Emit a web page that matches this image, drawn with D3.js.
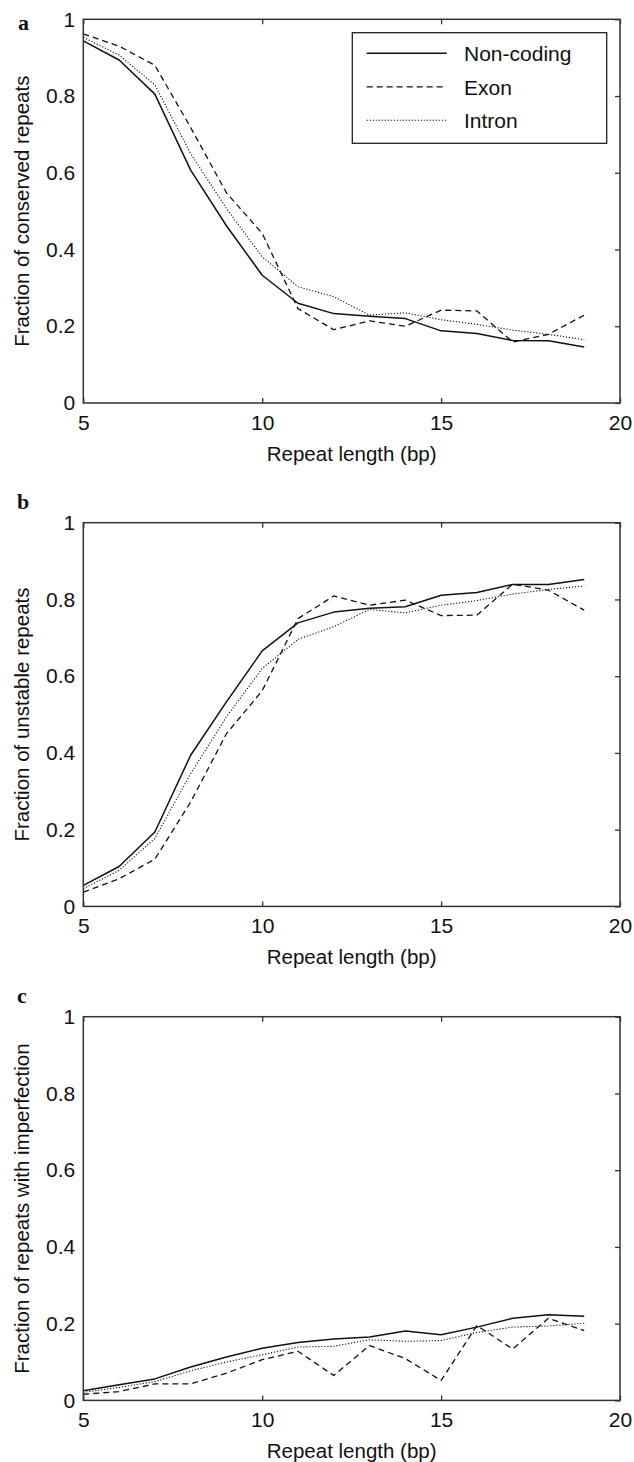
<!DOCTYPE html>
<html><head><meta charset="utf-8">
<script src="https://cdn.jsdelivr.net/npm/d3@7"></script>
<style>body{margin:0;background:#fff}svg{display:block}</style>
</head><body>
<script>
const repeatLength = [5,6,7,8,9,10,11,12,13,14,15,16,17,18,19];
const seriesNames = ["Non-coding","Exon","Intron"];
const xTicks = [5,10,15,20];
const yTicks = [0,0.2,0.4,0.6,0.8,1];
const yTickLabels = ["0","0.2","0.4","0.6","0.8","1"];
const xTitle = "Repeat length (bp)";
const panelLetters = ["a","b","c"];
const yTitles = ["Fraction of conserved repeats","Fraction of unstable repeats","Fraction of repeats with imperfection"];

const conservedNonCoding = [0.944,0.894,0.805,0.607,0.462,0.333,0.260,0.233,0.226,0.220,0.188,0.181,0.163,0.162,0.146];
const conservedExon      = [0.962,0.930,0.880,0.718,0.548,0.442,0.246,0.191,0.214,0.200,0.242,0.240,0.159,0.179,0.229];
const conservedIntron    = [0.953,0.907,0.829,0.650,0.507,0.381,0.303,0.277,0.229,0.235,0.217,0.205,0.190,0.179,0.165];

const unstableNonCoding = [0.055,0.104,0.194,0.394,0.533,0.666,0.739,0.767,0.777,0.781,0.811,0.818,0.839,0.839,0.852];
const unstableExon      = [0.037,0.072,0.123,0.272,0.450,0.562,0.750,0.809,0.785,0.798,0.758,0.759,0.840,0.824,0.772];
const unstableIntron    = [0.046,0.094,0.177,0.346,0.494,0.620,0.696,0.729,0.774,0.765,0.785,0.797,0.814,0.826,0.835];

const imperfNonCoding = [0.025,0.041,0.056,0.087,0.113,0.136,0.151,0.160,0.165,0.181,0.171,0.191,0.214,0.223,0.219];
const imperfExon      = [0.016,0.023,0.043,0.043,0.071,0.106,0.128,0.065,0.143,0.109,0.052,0.195,0.134,0.214,0.182];
const imperfIntron    = [0.021,0.034,0.049,0.077,0.100,0.119,0.139,0.141,0.158,0.154,0.156,0.177,0.191,0.194,0.201];

const panelSeries = [
  [conservedNonCoding, conservedExon, conservedIntron],
  [unstableNonCoding, unstableExon, unstableIntron],
  [imperfNonCoding, imperfExon, imperfIntron]
];

const W = 634, H = 1462;
const styles = [
  {w:1.5, dash:null},
  {w:1.3, dash:"6,4"},
  {w:1.1, dash:"1.2,1.8"}
];
const panelTops = [19.3, 522.7, 1016.7];
const plotH = 383.7;
const left = 83.3, right = 620;
const font = "'Liberation Sans', Arial, Helvetica, sans-serif";

const svg = d3.select("body").append("svg").attr("width", W).attr("height", H);
const x = d3.scaleLinear().domain([5,20]).range([left, right]);

panelSeries.forEach((series, pi) => {
  const top = panelTops[pi], bottom = top + plotH;
  const y = d3.scaleLinear().domain([0,1]).range([bottom, top]);
  const g = svg.append("g");

  // lines
  series.forEach((vals, si) => {
    const line = d3.line().x((d,i)=>x(repeatLength[i])).y(d=>y(d));
    g.append("path").datum(vals).attr("d", line)
      .attr("fill","none").attr("stroke","#111")
      .attr("stroke-width", styles[si].w)
      .attr("stroke-dasharray", styles[si].dash)
      .attr("stroke-linejoin","round");
  });

  // box
  g.append("rect").attr("x", left).attr("y", top).attr("width", right-left).attr("height", plotH)
    .attr("fill","none").attr("stroke","#333").attr("stroke-width",1.5);

  // axes
  const xb = g.append("g").attr("transform",`translate(0,${bottom})`)
    .call(d3.axisBottom(x).tickValues(xTicks).tickFormat(d3.format("d")).tickSize(-5).tickPadding(12));
  const xt = g.append("g").attr("transform",`translate(0,${top})`)
    .call(d3.axisTop(x).tickValues(xTicks).tickFormat("").tickSize(-5));
  const yl = g.append("g").attr("transform",`translate(${left},0)`)
    .call(d3.axisLeft(y).tickValues(yTicks).tickFormat((d,i)=>yTickLabels[i]).tickSize(0).tickPadding(8));
  const yr = g.append("g").attr("transform",`translate(${right},0)`)
    .call(d3.axisRight(y).tickValues(yTicks).tickFormat("").tickSize(-5));
  [xb,xt,yl,yr].forEach(a=>{
    a.select(".domain").remove();
    a.selectAll(".tick line").attr("stroke","#333").attr("stroke-width",1.3);
    a.selectAll("text").attr("font-family",font).attr("font-size",21).attr("fill","#111");
  });

  // titles
  g.append("text").attr("x",(left+right)/2).attr("y",bottom+58)
    .attr("text-anchor","middle").attr("font-family",font).attr("font-size",20.5).attr("fill","#111").text(xTitle);
  g.append("text").attr("transform",`translate(29,${(top+bottom)/2}) rotate(-90)`)
    .attr("text-anchor","middle").attr("font-family",font).attr("font-size",20.5).attr("fill","#111").text(yTitles[pi]);
  g.append("text").attr("x", pi===0?18:17).attr("y", top - (pi===0?-11:14))
    .attr("font-family","'Liberation Serif','Times New Roman',serif").attr("font-weight","bold")
    .attr("font-size",22).attr("fill","#111").text(panelLetters[pi]);

  // legend (panel a only)
  if (pi === 0) {
    const lg = g.append("g");
    lg.append("rect").attr("x",352.3).attr("y",32.7).attr("width",254.4).attr("height",110.6)
      .attr("fill","#fff").attr("stroke","#222").attr("stroke-width",1.3);
    seriesNames.forEach((name, si) => {
      const ly = 53.3 + si*33.5;
      lg.append("line").attr("x1",366.7).attr("x2",446.7).attr("y1",ly).attr("y2",ly)
        .attr("stroke","#111").attr("stroke-width",styles[si].w).attr("stroke-dasharray",styles[si].dash);
      lg.append("text").attr("x",464).attr("y",ly+8).attr("font-family",font).attr("font-size",21)
        .attr("fill","#111").text(name);
    });
  }
});
</script>
</body></html>
